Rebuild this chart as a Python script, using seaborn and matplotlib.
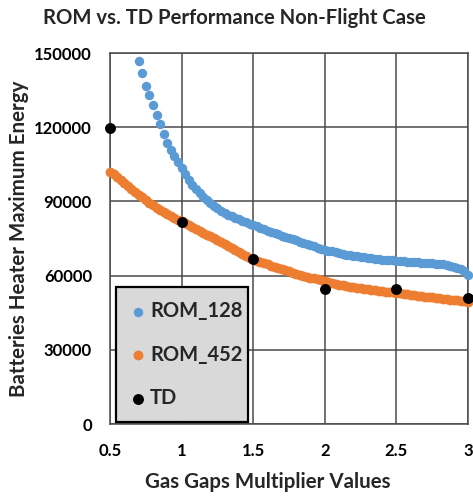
import numpy as np
import pandas as pd
import matplotlib
matplotlib.use("Agg")
import matplotlib.pyplot as plt
import seaborn as sns

# ---------------- data ----------------
rom128_x = np.round(np.arange(0.700, 3.0001, 0.025), 3)
rom128_y = [
    146800, 141900, 136500, 133000, 129000, 125000, 121200, 117300, 113800, 110800,
    108300, 106000,
    103500, 101200, 98800, 96800, 94900, 93200, 91900, 90600, 89400, 88300,
    87200, 86200, 85300, 84600, 83900, 83300, 82700, 82100, 81500, 81000,
    80500, 79900, 79300, 78700, 78200, 77700, 77200, 76700, 76200, 75800,
    75300, 74800, 74200, 73700, 73200, 72700, 72200, 71800, 71300, 70900,
    70500, 70100, 69800, 69400, 69100, 68800, 68500, 68300, 68100, 67900,
    67700, 67500, 67300, 67100, 66900, 66700, 66500, 66400, 66300, 66200,
    66100, 66000, 65900, 65700, 65600, 65400, 65300, 65200, 65100, 65000,
    64900, 64800, 64700, 64500, 64300, 64000, 63600, 63100, 62600, 61700,
    60400,
]

rom452_x = np.round(np.arange(0.500, 3.0001, 0.025), 3)
rom452_y = [
    102000, 100900, 99800, 98700, 97500, 96300, 95100, 93900, 92700, 91600,
    90500, 89500, 88500, 87500, 86600, 85700, 84900, 84100, 83300, 82600,
    81900, 81100, 80300, 79500, 78700, 78000, 77300, 76600, 75900, 75200,
    74500, 73700, 72900, 72100, 71300, 70500, 69700, 68900, 68100, 67300,
    66600, 66000, 65500, 65000, 64500, 64000, 63600, 63200, 62700, 62200,
    61700, 61200, 60800, 60400, 60000, 59600, 59200, 58900, 58600, 58300,
    58000, 57600, 57200, 56800, 56400, 56100, 55800, 55500, 55300, 55100,
    54900, 54700, 54500, 54300, 54100, 53900, 53700, 53500, 53400, 53200,
    53000, 52800, 52600, 52400, 52300, 52100, 51900, 51700, 51500, 51400,
    51200, 51000, 50800, 50600, 50500, 50300, 50100, 50000, 49800, 49600,
    49500,
]

td_x = [0.5, 1.0, 1.5, 2.0, 2.5, 3.0]
td_y = [119800, 81800, 66600, 54500, 54500, 51100]

x_ticks = [0.5, 1, 1.5, 2, 2.5, 3]
x_tick_labels = ["0.5", "1", "1.5", "2", "2.5", "3"]
y_ticks = [0, 30000, 60000, 90000, 120000, 150000]
y_tick_labels = ["0", "30000", "60000", "90000", "120000", "150000"]

series_names = ["ROM_128", "ROM_452", "TD"]
series_colors = ["#5B9BD5", "#ED7D31", "#000000"]

title = "ROM vs. TD Performance Non-Flight Case"
xlabel = "Gas Gaps Multiplier Values"
ylabel = "Batteries Heater Maximum Energy"

# ---------------- figure ----------------
sns.set_theme(style="white")
plt.rcParams["font.family"] = ["Lato", "DejaVu Sans"]

W, H = 473, 498
fig = plt.figure(figsize=(W / 100, H / 100), dpi=100)
ax = fig.add_axes([110 / W, 1 - 424 / H, (468 - 110) / W, (424 - 53) / H])

df128 = pd.DataFrame({"x": rom128_x, "y": rom128_y})
df452 = pd.DataFrame({"x": rom452_x, "y": rom452_y})
dftd = pd.DataFrame({"x": td_x, "y": td_y})

sns.scatterplot(data=df128, x="x", y="y", ax=ax, color=series_colors[0], s=46,
                linewidth=0, label=series_names[0], clip_on=False, zorder=3)
sns.scatterplot(data=df452, x="x", y="y", ax=ax, color=series_colors[1], s=50,
                linewidth=0, label=series_names[1], clip_on=False, zorder=3)
sns.scatterplot(data=dftd, x="x", y="y", ax=ax, color=series_colors[2], s=62,
                linewidth=0, label=series_names[2], clip_on=False, zorder=4)

ax.set_xlim(0.5, 3)
ax.set_ylim(0, 150000)
ax.set_xticks(x_ticks)
ax.set_xticklabels(x_tick_labels, fontsize=12, fontweight="bold")
ax.set_yticks(y_ticks)
ax.set_yticklabels(y_tick_labels, fontsize=12, fontweight="bold")
ax.tick_params(axis="both", length=0, colors="black")
ax.tick_params(axis="x", pad=14)
ax.tick_params(axis="y", pad=13)
ax.set_xlabel("")
ax.set_ylabel("")

ax.grid(True, color="#4A4A4A", linewidth=1.1)
ax.set_axisbelow(True)
for sp in ax.spines.values():
    sp.set_color("#4A4A4A")
    sp.set_linewidth(1.1)

leg = ax.legend(loc="lower left",
                bbox_to_anchor=(6 / 358, 1.7 / 371, 132 / 358, 0.36),
                mode="expand", borderaxespad=0,
                prop={"weight": "bold", "size": 14.5},
                frameon=True, fancybox=False, framealpha=1,
                facecolor="#D9D9D9", edgecolor="black",
                labelspacing=1.15, borderpad=0.72,
                handlelength=0.75, handletextpad=0.22)
leg.get_frame().set_linewidth(1.6)

fig.text(234 / W, 1 - 18 / H, title, ha="center", va="center",
         fontsize=14.6, fontweight="bold")
fig.text(268 / W, 1 - 482 / H, xlabel, ha="center", va="center",
         fontsize=14.8, fontweight="bold")
fig.text(19 / W, 1 - 239 / H, ylabel, ha="center", va="center",
         rotation=90, fontsize=14.8, fontweight="bold")

fig.savefig("out.png", dpi=100)
